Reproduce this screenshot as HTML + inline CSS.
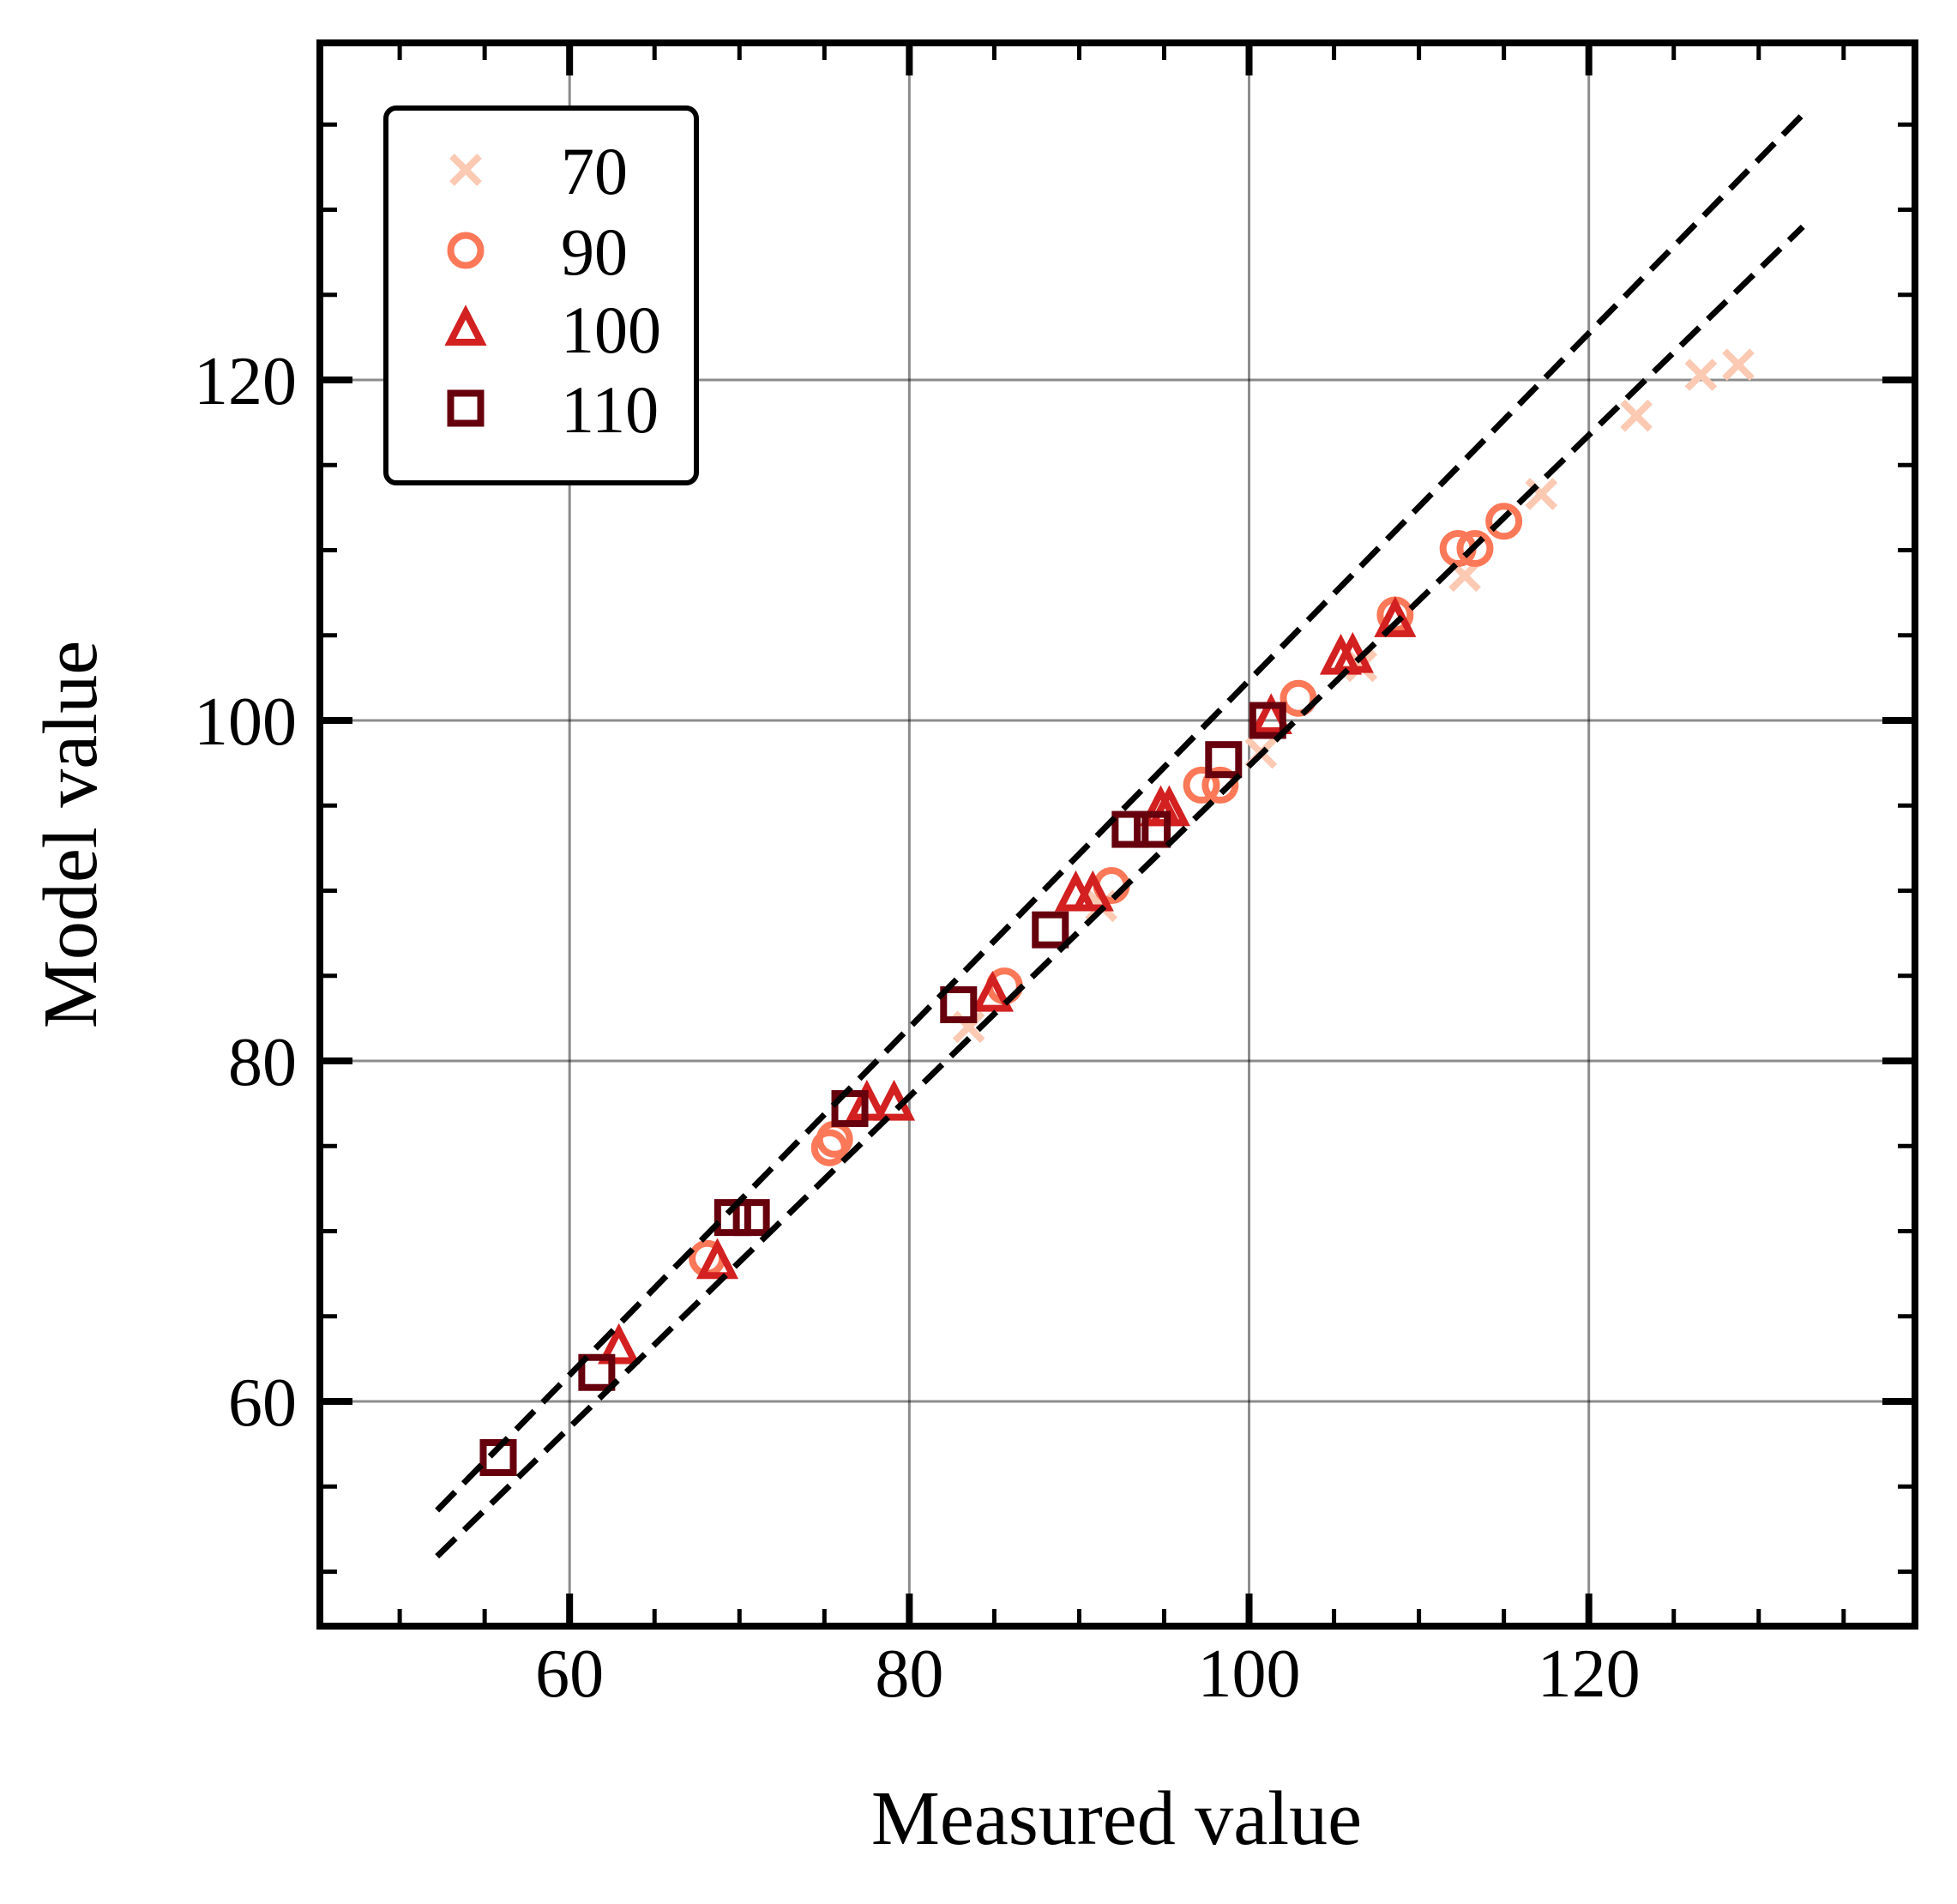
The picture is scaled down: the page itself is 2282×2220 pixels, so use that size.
<!DOCTYPE html>
<html><head><meta charset="utf-8"><style>
html,body{margin:0;padding:0;background:#fff;}
svg{display:block;font-family:"Liberation Serif",serif;}
</style></head><body>
<svg id="chart" width="2282" height="2220" viewBox="0 0 2282 2220" xmlns="http://www.w3.org/2000/svg">
<rect x="0" y="0" width="2282" height="2220" fill="#fff"/>
<g id="grid"></g>
<g id="marks"></g>
<g id="lines"></g>
<g id="axes"></g>
<text x="1302" y="2150" font-size="90" text-anchor="middle">Measured value</text>
<text x="112" y="973" font-size="90" text-anchor="middle" transform="rotate(-90 112 973)">Model value</text>
<g id="legend">
<rect x="450" y="126" width="362" height="437" rx="12" ry="12" fill="#fff" stroke="#000" stroke-width="6"/>
</g>
</svg>
<script>
const xTicks = [60, 80, 100, 120];
const yTicks = [60, 80, 100, 120];
const xTickLabels = ["60", "80", "100", "120"];
const yTickLabels = ["60", "80", "100", "120"];
const minorStep = 5;
const seriesNames = ["70", "90", "100", "110"];
const s70x = [83.5, 91.3, 100.7, 106.6, 112.7, 117.2, 122.8, 126.6, 128.8];
const s70y = [82.0, 89.1, 98.1, 103.2, 108.5, 113.3, 117.9, 120.3, 120.9];
const s90x = [68.1, 75.3, 75.6, 85.6, 91.9, 97.2, 98.3, 102.9, 108.6, 112.3, 113.3, 115.0];
const s90y = [68.4, 74.9, 75.4, 84.4, 90.3, 96.2, 96.2, 101.3, 106.2, 110.1, 110.1, 111.7];
const s100x = [62.9, 68.7, 77.5, 79.1, 84.9, 89.8, 90.8, 94.8, 95.3, 101.3, 105.4, 106.1, 108.6];
const s100y = [63.2, 68.2, 77.5, 77.5, 83.9, 89.8, 89.8, 94.8, 94.8, 100.2, 103.7, 103.8, 105.9];
const s110x = [55.8, 61.6, 69.6, 70.7, 76.5, 82.9, 88.3, 93.0, 94.3, 98.5, 101.1];
const s110y = [56.7, 61.7, 70.8, 70.8, 77.2, 83.3, 87.7, 93.6, 93.6, 97.7, 100.0];
const refLineX = [52.2, 132.6];
const upperLineY = [53.6, 135.6];
const lowerLineY = [50.9, 129.0];

const L = 373, R = 2233, T = 50, B = 1896;
const xMin = 45.3, xMax = 139.2, yMin = 46.8, yMax = 139.8;
function sx(v){ return L + (v - xMin) / (xMax - xMin) * (R - L); }
function sy(v){ return B - (v - yMin) / (yMax - yMin) * (B - T); }
const NS = "http://www.w3.org/2000/svg";
function mk(tag, attrs, parent){
  const e = document.createElementNS(NS, tag);
  for (const k in attrs) e.setAttribute(k, attrs[k]);
  parent.appendChild(e);
  return e;
}
const grid = document.getElementById('grid');
const marks = document.getElementById('marks');
const lines = document.getElementById('lines');
const axes = document.getElementById('axes');
const legend = document.getElementById('legend');
const colors = ["#fcc9b3", "#fb7858", "#d32020", "#67000d"];

xTicks.forEach(function(v){
  const g = mk('line', {x1: sx(v), x2: sx(v), y1: T, y2: B, stroke: '#000', 'stroke-opacity': 0.45, 'stroke-width': 3}, grid);
  
  
});
yTicks.forEach(function(v){
  const g = mk('line', {x1: L, x2: R, y1: sy(v), y2: sy(v), stroke: '#000', 'stroke-opacity': 0.45, 'stroke-width': 3}, grid);
  
  
});

function drawMarker(type, cx, cy, color, parent){
  let e;
  if (type === 0) {
    const h = 16;
    e = mk('path', {d: 'M'+(cx-h)+','+(cy-h)+'L'+(cx+h)+','+(cy+h)+'M'+(cx-h)+','+(cy+h)+'L'+(cx+h)+','+(cy-h), stroke: color, 'stroke-width': 8, fill: 'none'}, parent);
  } else if (type === 1) {
    e = mk('circle', {cx: cx, cy: cy, r: 17.5, stroke: color, 'stroke-width': 8, fill: 'none'}, parent);
  } else if (type === 2) {
    e = mk('path', {d: 'M'+cx+','+(cy-19)+'L'+(cx+18)+','+(cy+16)+'L'+(cx-18)+','+(cy+16)+'Z', stroke: color, 'stroke-width': 8, fill: 'none'}, parent);
  } else {
    e = mk('rect', {x: cx-17.5, y: cy-17.5, width: 35, height: 35, stroke: color, 'stroke-width': 8, fill: 'none'}, parent);
  }
  return e;
}
const allX = [s70x, s90x, s100x, s110x];
const allY = [s70y, s90y, s100y, s110y];
for (let s = 0; s < 4; s++) {
  for (let i = 0; i < allX[s].length; i++) {
    const e = drawMarker(s, sx(allX[s][i]), sy(allY[s][i]), colors[s], marks);
    
    
  }
}
const up = mk('line', {x1: sx(refLineX[0]), y1: sy(upperLineY[0]), x2: sx(refLineX[1]), y2: sy(upperLineY[1]), stroke: '#000', 'stroke-width': 7, 'stroke-dasharray': '30 14'}, lines);


const lo = mk('line', {x1: sx(refLineX[0]), y1: sy(lowerLineY[0]), x2: sx(refLineX[1]), y2: sy(lowerLineY[1]), stroke: '#000', 'stroke-width': 7, 'stroke-dasharray': '30 14'}, lines);



for (let v = Math.ceil(xMin / minorStep) * minorStep; v <= xMax; v += minorStep) {
  const major = xTicks.indexOf(v) >= 0;
  const len = major ? 38 : 20, w = major ? 8 : 5;
  const t1 = mk('line', {x1: sx(v), x2: sx(v), y1: B, y2: B - len, stroke: '#000', 'stroke-width': w}, axes);
  
  
  const t2 = mk('line', {x1: sx(v), x2: sx(v), y1: T, y2: T + len, stroke: '#000', 'stroke-width': w}, axes);
  
  
}
for (let v = Math.ceil(yMin / minorStep) * minorStep; v <= yMax; v += minorStep) {
  const major = yTicks.indexOf(v) >= 0;
  const len = major ? 38 : 20, w = major ? 8 : 5;
  const t1 = mk('line', {x1: L, x2: L + len, y1: sy(v), y2: sy(v), stroke: '#000', 'stroke-width': w}, axes);
  
  
  const t2 = mk('line', {x1: R, x2: R - len, y1: sy(v), y2: sy(v), stroke: '#000', 'stroke-width': w}, axes);
  
  
}
const frame = mk('rect', {x: L, y: T, width: R - L, height: B - T, fill: 'none', stroke: '#000', 'stroke-width': 8}, axes);


xTicks.forEach(function(v, i){
  const t = mk('text', {x: sx(v), y: 1978, 'font-size': 80, 'text-anchor': 'middle'}, axes);
  t.textContent = xTickLabels[i];
  
  
});
yTicks.forEach(function(v, i){
  const t = mk('text', {x: 346, y: sy(v) + 28, 'font-size': 80, 'text-anchor': 'end'}, axes);
  t.textContent = yTickLabels[i];
  
  
});
const legRows = [198, 292, 383, 476];
for (let s = 0; s < 4; s++) {
  const m = drawMarker(s, 543, legRows[s], colors[s], legend);
  
  
  const t = mk('text', {x: 654, y: legRows[s] + 28, 'font-size': 78}, legend);
  t.textContent = seriesNames[s];
  
  
}
</script>
</body></html>
